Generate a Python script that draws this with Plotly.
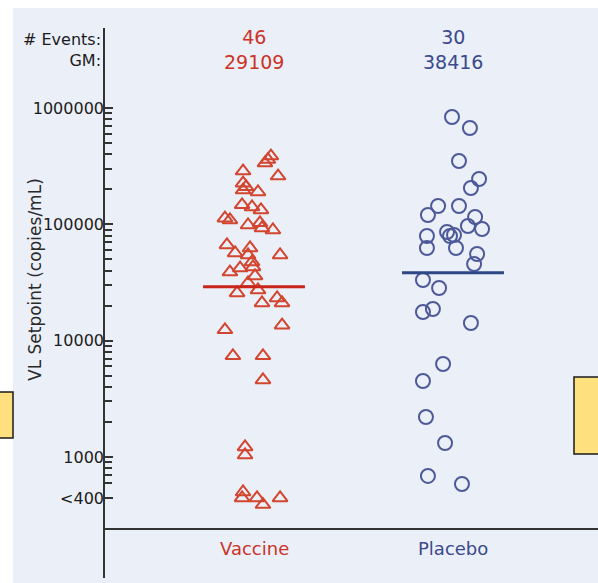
import plotly.graph_objects as go

# ---- data -------------------------------------------------------------
groups = ["Vaccine", "Placebo"]
gm_values = [29109, 38416]

vaccine_vl = [386000, 360000, 336000, 287000, 260000, 226000, 210000, 197000,
              190000, 147000, 141000, 133000, 113000, 109000, 103000, 98700,
              93000, 89400, 66500, 62600, 56700, 54500, 54500, 47500, 43000,
              42100, 38900, 36000, 31300, 27300, 25700, 23300, 21100, 21100,
              13600, 12400, 7400, 7400, 4600, 1220, 1040, 500, 445, 445, 390,
              445]
vaccine_jitter = [0.085, 0.070, 0.055, -0.055, 0.121, -0.055, -0.040, -0.055,
                  0.020, -0.060, -0.010, 0.035, -0.146, -0.121, 0.030, -0.030,
                  0.040, 0.095, -0.136, -0.020, -0.095, 0.131, -0.030, -0.010,
                  -0.005, -0.070, -0.121, 0.005, -0.030, 0.020, -0.085, 0.116,
                  0.040, 0.141, 0.141, -0.146, -0.106, 0.045, 0.045, -0.045,
                  -0.045, -0.055, -0.060, 0.015, 0.045, 0.131]

placebo_vl = [836700, 673000, 350400, 245300, 205300, 143800, 143800, 120300,
              115600, 96750, 91170, 79390, 85940, 79390, 80980, 62590, 62590,
              55570, 45600, 33220, 28360, 18720, 17640, 14190, 6300, 4500,
              2207, 1319, 687, 586]
placebo_jitter = [-0.005, 0.085, 0.030, 0.131, 0.090, -0.075, 0.030, -0.126,
                  0.111, 0.075, 0.146, -0.131, -0.030, -0.015, 0.005, -0.131,
                  0.015, 0.121, 0.106, -0.151, -0.070, -0.101, -0.151, 0.090,
                  -0.050, -0.151, -0.136, -0.040, -0.126, 0.045]

y_tick_vals = [444, 1000, 10000, 100000, 1000000]
y_tick_text = ["<400", "1000", "10000", "100000", "1000000"]
y_minor_vals = [600, 700, 800, 900] + [m * 10 ** e for e in (3, 4, 5) for m in range(2, 10)]

# ---- styling ----------------------------------------------------------
W, H = 598, 583
RED, RED_MARK, RED_LINE = "#cc3327", "#d2452f", "#c8261b"
BLUE, BLUE_MARK, BLUE_LINE = "#3a4a8c", "#4d5998", "#2c4686"
INK = "#1c1c1c"
PANEL = "#ebeff8"
FONT = "DejaVu Sans"


def px(x):
    return x / W


def py(y):
    return 1 - y / H


fig = go.Figure()

vaccine_x = [1 + j for j in vaccine_jitter]
placebo_x = [2 + j for j in placebo_jitter]

fig.add_trace(go.Scatter(
    x=vaccine_x, y=vaccine_vl, mode="markers", name=groups[0],
    marker=dict(symbol="triangle-up-open", size=13, color=RED_MARK,
                line=dict(width=2, color=RED_MARK)),
))
fig.add_trace(go.Scatter(
    x=placebo_x, y=placebo_vl, mode="markers", name=groups[1],
    marker=dict(symbol="circle-open", size=14, color=BLUE_MARK,
                line=dict(width=2, color=BLUE_MARK)),
))

# geometric-mean bars
half = 0.256
for i, (gm, col) in enumerate(zip(gm_values, [RED_LINE, BLUE_LINE])):
    fig.add_trace(go.Scatter(
        x=[i + 1 - half, i + 1 + half], y=[gm, gm], mode="lines",
        line=dict(color=col, width=3), hoverinfo="skip",
    ))

shapes = [
    # light panel
    dict(type="rect", xref="paper", yref="paper", x0=px(13), x1=px(W + 2),
         y0=py(8), y1=py(H + 2), fillcolor=PANEL, line=dict(width=0), layer="below"),
    # y axis line
    dict(type="line", xref="paper", yref="paper", x0=px(104), x1=px(104),
         y0=py(28), y1=py(578), line=dict(color="#333333", width=2)),
    # baseline
    dict(type="line", xref="paper", yref="paper", x0=px(104), x1=px(W + 2),
         y0=py(529), y1=py(529), line=dict(color="#333333", width=2)),
    # side boxes
    dict(type="rect", xref="paper", yref="paper", x0=px(-2), x1=px(13),
         y0=py(392), y1=py(438), fillcolor="#ffe07e",
         line=dict(color="#1a1a1a", width=1.5)),
    dict(type="rect", xref="paper", yref="paper", x0=px(574), x1=px(W + 2),
         y0=py(377), y1=py(454), fillcolor="#ffe07e",
         line=dict(color="#1a1a1a", width=1.5)),
]

annotations = [
    dict(text="# Events:<br>GM:", x=px(103), y=py(50), xref="paper", yref="paper",
         xanchor="right", yanchor="middle", align="right", showarrow=False,
         font=dict(family=FONT, size=16, color=INK)),
    dict(text="VL Setpoint (copies/mL)", x=px(35), y=py(280), xref="paper",
         yref="paper", textangle=-90, showarrow=False, xanchor="center",
         yanchor="middle", font=dict(family=FONT, size=17, color="#2a2a2a")),
]

for i, (name, vals, gm, col) in enumerate(zip(groups, [vaccine_vl, placebo_vl],
                                              gm_values, [RED, BLUE])):
    annotations += [
        dict(text=f"{len(vals)}<br>{gm}", x=i + 1, y=py(50), xref="x", yref="paper",
             showarrow=False, xanchor="center", yanchor="middle", align="center",
             font=dict(family=FONT, size=19, color=col)),
        dict(text=name, x=i + 1, y=py(548), xref="x", yref="paper",
             showarrow=False, xanchor="center", yanchor="middle",
             font=dict(family=FONT, size=18, color=col)),
    ]

fig.update_layout(
    width=W, height=H, autosize=False,
    margin=dict(l=0, r=0, t=0, b=0, pad=0),
    paper_bgcolor="white", plot_bgcolor="rgba(0,0,0,0)",
    showlegend=False,
    shapes=shapes, annotations=annotations,
    xaxis=dict(range=[-0.2764, 2.7286], visible=False, fixedrange=True),
    yaxis=dict(
        type="log", range=[1.9168, 6.9284], anchor="free", position=px(104),
        showline=False, showgrid=False, zeroline=False,
        tickmode="array", tickvals=y_tick_vals, ticktext=y_tick_text,
        ticks="inside", ticklen=8, tickwidth=1.5, tickcolor="#333333",
        tickfont=dict(family=FONT, size=16, color=INK),
        ticklabelstandoff=0,
        minor=dict(tickmode="array", tickvals=y_minor_vals, ticks="inside",
                   ticklen=7, tickwidth=1.5, tickcolor="#333333"),
    ),
)

fig.write_html("out.html")
